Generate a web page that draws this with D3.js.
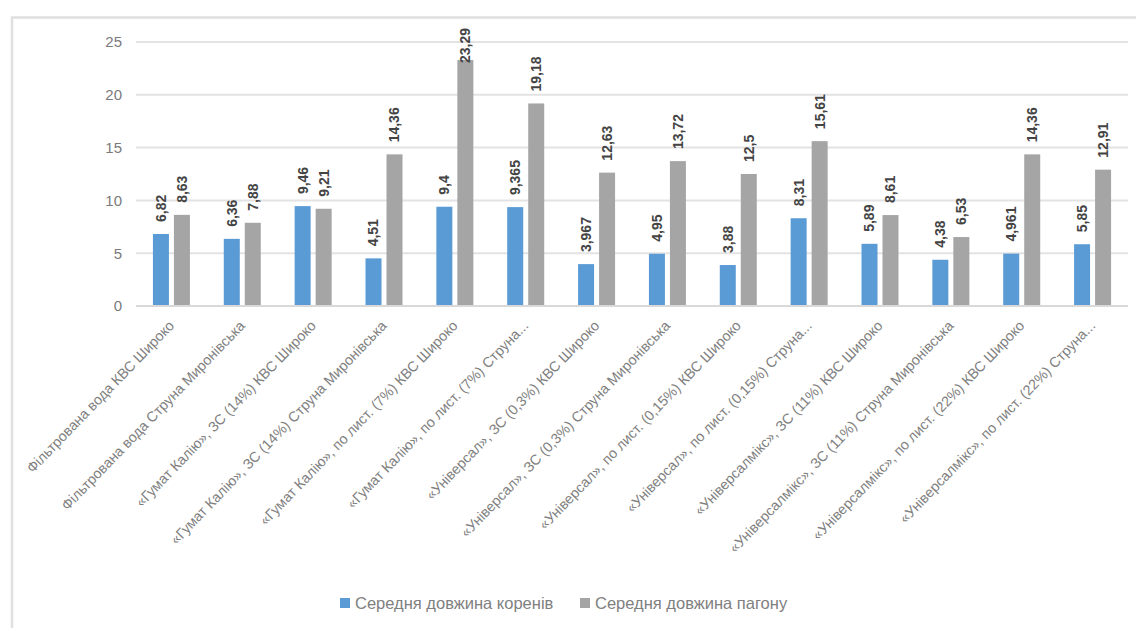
<!DOCTYPE html>
<html><head><meta charset="utf-8">
<script src="https://cdn.jsdelivr.net/npm/d3@7"></script>
<style>
html,body{margin:0;padding:0;background:#fff;}
svg{display:block;font-family:"Liberation Sans",Arial,sans-serif;}
</style></head>
<body>
<svg id="c" width="1136" height="628"></svg>
<script>
const categories = [
  "Фільтрована вода КВС Широко",
  "Фільтрована вода Струна Миронівська",
  "«Гумат Калію», ЗС (14%) КВС Широко",
  "«Гумат Калію», ЗС (14%) Струна Миронівська",
  "«Гумат Калію», по лист. (7%) КВС Широко",
  "«Гумат Калію», по лист. (7%) Струна...",
  "«Універсал», ЗС (0,3%) КВС Широко",
  "«Універсал», ЗС (0,3%) Струна Миронівська",
  "«Універсал», по лист. (0,15%) КВС Широко",
  "«Універсал», по лист. (0,15%) Струна...",
  "«Універсалмікс», ЗС (11%) КВС Широко",
  "«Універсалмікс», ЗС (11%) Струна Миронівська",
  "«Універсалмікс», по лист. (22%) КВС Широко",
  "«Універсалмікс», по лист. (22%) Струна..."
];
const rootLength = [6.82, 6.36, 9.46, 4.51, 9.4, 9.365, 3.967, 4.95, 3.88, 8.31, 5.89, 4.38, 4.961, 5.85];
const shootLength = [8.63, 7.88, 9.21, 14.36, 23.29, 19.18, 12.63, 13.72, 12.5, 15.61, 8.61, 6.53, 14.36, 12.91];
const seriesNames = ["Середня довжина коренів", "Середня довжина пагону"];
const yTicks = [0, 5, 10, 15, 20, 25];

const colors = ["#5b9bd5", "#a5a5a5"];
const svg = d3.select("#c");

// chart frame
svg.append("path").attr("d", "M12,628 L12,17.5 L1136,17.5")
  .attr("fill", "none").attr("stroke", "#e0e0e0").attr("stroke-width", 2.5);

const x0 = d3.scaleBand().domain(d3.range(categories.length)).range([136, 1128]);
const y = d3.scaleLinear().domain([0, 25]).range([306, 42]);

// gridlines
svg.append("g").selectAll("line").data(yTicks).join("line")
  .attr("x1", 136).attr("x2", 1128)
  .attr("y1", d => y(d)).attr("y2", d => y(d))
  .attr("stroke", "#e3e3e3").attr("stroke-width", 2);

// y axis labels
const yAxis = d3.axisLeft(y).tickValues(yTicks).tickSize(0).tickPadding(0);
const ya = svg.append("g").attr("transform", "translate(122,0)").call(yAxis);
ya.select(".domain").remove();
ya.selectAll("text").attr("font-size", 15).attr("fill", "#7a7a7a")
  .attr("font-family", "Liberation Sans, Arial, sans-serif");

const fmt = v => String(v).replace(".", ",");
const barW = 16, gap = 5;
const series = [rootLength, shootLength];
const topLimit = 28;

series.forEach((vals, si) => {
  const g = svg.append("g");
  const xoff = si === 0 ? -(barW + gap / 2) : gap / 2;
  g.selectAll("rect").data(vals).join("rect")
    .attr("x", (d, i) => x0(i) + x0.bandwidth() / 2 + xoff)
    .attr("width", barW)
    .attr("y", d => y(d))
    .attr("height", d => y(0) - y(d))
    .attr("fill", colors[si]);
  g.selectAll("text").data(vals).join("text")
    .attr("dy", "0.35em")
    .attr("text-anchor", "start")
    .attr("font-size", 14).attr("font-weight", "bold").attr("fill", "#444")
    .text(d => fmt(d))
    .attr("transform", function (d, i) {
      const len = this.getComputedTextLength();
      const sy = Math.max(y(d) - 12, topLimit + len);
      return `translate(${x0(i) + x0.bandwidth() / 2 + xoff + barW / 2},${sy}) rotate(-90)`;
    });
});

// x axis line
svg.append("line").attr("x1", 136).attr("x2", 1128).attr("y1", 306).attr("y2", 306)
  .attr("stroke", "#d9d9d9").attr("stroke-width", 2);

// category labels
const xAxis = d3.axisBottom(x0).tickSize(0).tickFormat(i => categories[i]);
const xa = svg.append("g").attr("transform", "translate(0,306)").call(xAxis);
xa.select(".domain").remove();
xa.selectAll("text")
  .attr("font-size", 14.3).attr("fill", "#808080")
  .attr("text-anchor", "end")
  .attr("transform", "translate(0,17) rotate(-46)")
  .attr("dy", "0.35em").attr("y", 0).attr("x", 0);

// legend
const leg = svg.append("g").attr("transform", "translate(0,603)");
const legX = [340, 580];
seriesNames.forEach((n, i) => {
  leg.append("rect").attr("x", legX[i]).attr("y", -5).attr("width", 10).attr("height", 10).attr("fill", colors[i]);
  leg.append("text").attr("x", legX[i] + 15).attr("y", 0).attr("dy", "0.35em")
    .attr("font-size", 16.5).attr("fill", "#808080").text(n);
});
</script>
</body></html>
